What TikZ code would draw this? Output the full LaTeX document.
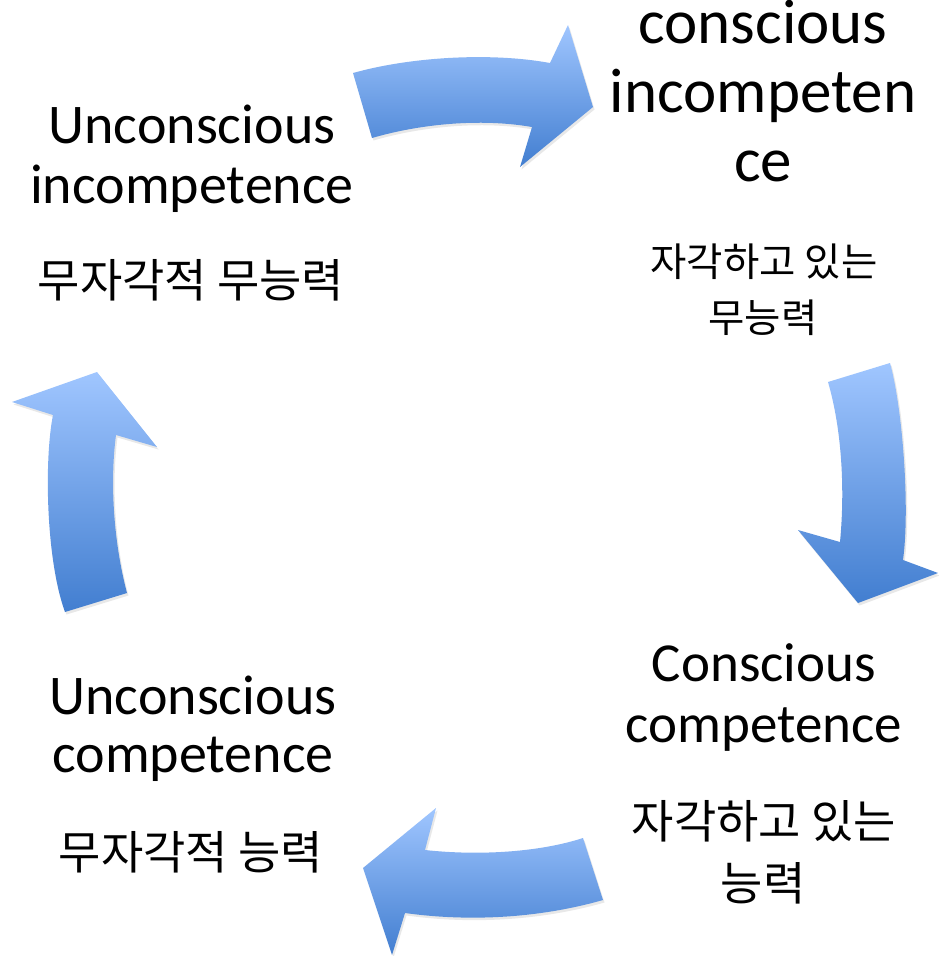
\documentclass[tikz,border=0pt]{standalone}
\usepackage{fontspec}
\setmainfont{Carlito}
\newfontfamily\krfont{Noto Sans CJK KR}
\usetikzlibrary{shadows}
\definecolor{arrtop}{RGB}{160,198,255}
\definecolor{arrbot}{RGB}{66,126,208}
\tikzset{
  cyclearrow/.style={top color=arrtop, bottom color=arrbot, draw=none,
    drop shadow={opacity=0.18, shadow xshift=1.5pt, shadow yshift=-2.5pt}},
  entxt/.style={anchor=base, inner sep=0pt, text=black},
  krtxt/.style={anchor=center, inner sep=0pt, text=black},
}
\begin{document}
\begin{tikzpicture}[x=1pt, y=-1pt]
\useasboundingbox (0,0) rectangle (939,956);
\fill[white] (0,0) rectangle (939,956);

% ---- arrows ----
\path[cyclearrow] (353,73) .. controls (410,57) and (490,52) .. (550,63)
  -- (568,25) -- (593,107) -- (520,167) -- (532,127)
  .. controls (480,118) and (420,124) .. (372,138) -- cycle;
\path[cyclearrow] (828,382) -- (890,363) .. controls (903,410) and (910,510) .. (903,560)
  -- (938,573) -- (858,603) -- (798,530) -- (840,542)
  .. controls (845,490) and (842,430) .. (828,382) -- cycle;
\path[cyclearrow] (583,838) -- (603,900) .. controls (540,918) and (470,922) .. (405,913)
  -- (392,955) -- (363,868) -- (436,808) -- (425,850)
  .. controls (480,856) and (540,852) .. (583,838) -- cycle;
\path[cyclearrow] (65,612) -- (127,593) .. controls (113,540) and (110,480) .. (116,435)
  -- (157,447) -- (97,372) -- (12,402) -- (53,415)
  .. controls (44,460) and (46,560) .. (65,612) -- cycle;

% ---- top left ----
\node[entxt, font=\fontsize{56}{60}\selectfont] (tla) at (192,143) {Unconscious};
\node[entxt, font=\fontsize{56}{60}\selectfont] (tlb) at (192,203) {incompetence};
\node[krtxt, font=\krfont\fontsize{46}{50}\selectfont] (tlk) at (191,280) {무자각적 무능력};

% ---- top right ----
\node[entxt, font=\fontsize{63}{68}\selectfont] (tra) at (763,43) {conscious};
\node[entxt, font=\fontsize{63}{68}\selectfont] (trb) at (763,112) {incompeten};
\node[entxt, font=\fontsize{63}{68}\selectfont] (trc) at (763,181) {ce};
\node[krtxt, font=\krfont\fontsize{39.5}{43}\selectfont] (trk1) at (764,262) {자각하고 있는};
\node[krtxt, font=\krfont\fontsize{39.5}{43}\selectfont] (trk2) at (763,318) {무능력};

% ---- bottom right ----
\node[entxt, font=\fontsize{55}{60}\selectfont] (bra) at (764,681) {Conscious};
\node[entxt, font=\fontsize{55}{60}\selectfont] (brb) at (764,742) {competence};
\node[krtxt, font=\krfont\fontsize{46}{50}\selectfont] (brk1) at (764,821) {자각하고 있는};
\node[krtxt, font=\krfont\fontsize{46}{50}\selectfont] (brk2) at (763,883) {능력};

% ---- bottom left ----
\node[entxt, font=\fontsize{56}{60}\selectfont] (bla) at (193,714) {Unconscious};
\node[entxt, font=\fontsize{56}{60}\selectfont] (blb) at (193,772) {competence};
\node[krtxt, font=\krfont\fontsize{46}{50}\selectfont] (blk) at (191,852) {무자각적 능력};
\end{tikzpicture}
\end{document}
